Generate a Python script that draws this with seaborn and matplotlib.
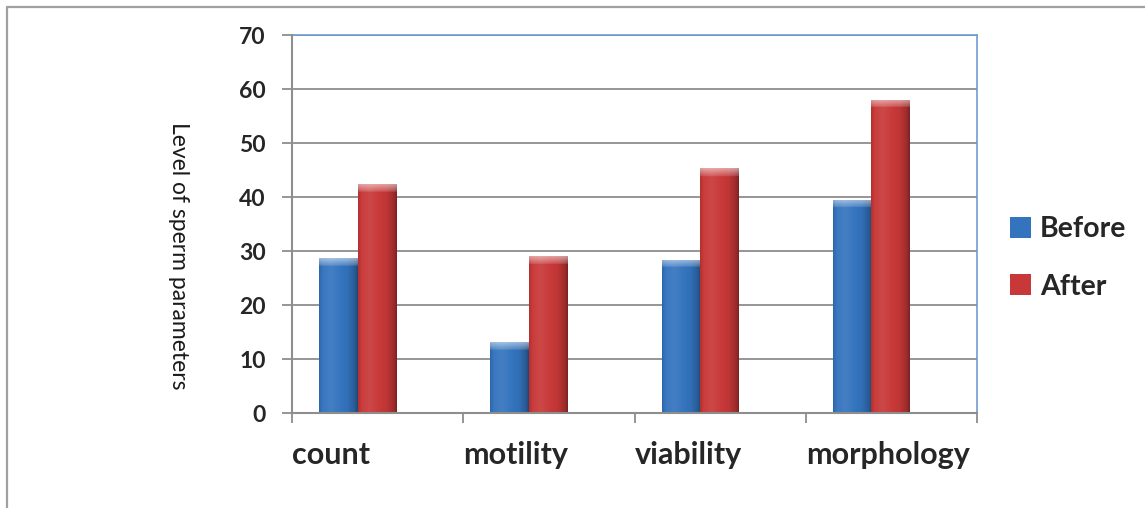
import numpy as np
import pandas as pd
import matplotlib
matplotlib.use("Agg")
import matplotlib.pyplot as plt
import seaborn as sns
from matplotlib.lines import Line2D
from matplotlib.colors import to_rgb

# Data
categories = ["count", "motility", "viability", "morphology"]
before_values = [28.7, 13.1, 28.4, 39.5]
after_values = [42.4, 29.0, 45.3, 58.0]
groups = ["Before", "After"]
y_ticks = [0, 10, 20, 30, 40, 50, 60, 70]

df = pd.DataFrame({
    "category": categories * 2,
    "group": [groups[0]] * len(categories) + [groups[1]] * len(categories),
    "value": before_values + after_values,
})

BLUE = "#3474BE"
RED = "#C83838"
GRID = "#8E8E8E"
FRAME_BLUE = "#6F9BD3"

sns.set_theme(style="white")
plt.rcParams["font.family"] = ["Lato", "DejaVu Sans"]

W, H = 1145, 508
fig = plt.figure(figsize=(W / 100, H / 100), dpi=100)
ax = fig.add_axes([292 / W, 1 - 413 / H, 685 / W, 378 / H])

sns.barplot(data=df, x="category", y="value", hue="group", hue_order=groups,
            palette=[BLUE, RED], width=0.448, saturation=1, ax=ax,
            linewidth=0, legend=True)

x0 = -0.383
ax.set_xlim(x0, x0 + 4)
ax.set_ylim(0, 70)


def shade(rgb, amt):
    rgb = np.asarray(rgb)
    if amt >= 0:
        return rgb + (1 - rgb) * amt
    return rgb * (1 + amt)


# Bevelled shading on each bar
for cont, base in zip(ax.containers, [BLUE, RED]):
    c = to_rgb(base)
    for bar in cont:
        x, y = bar.get_x(), bar.get_y()
        w, h = bar.get_width(), bar.get_height()
        nx, ny = 60, 240
        u = np.linspace(0, 1, nx)
        prof = np.interp(u, [0, 0.08, 0.3, 0.75, 0.93, 1.0],
                         [-0.12, 0.02, 0.08, -0.05, -0.22, -0.38])
        img = np.zeros((ny, nx, 3))
        yy = np.linspace(y + h, y, ny)  # top row first
        bevel = 1.4
        for j in range(nx):
            img[:, j, :] = shade(c, prof[j])
        for i, yv in enumerate(yy):
            d = (y + h) - yv
            if d < bevel:
                t = 1 - d / bevel
                img[i, :, :] = img[i, :, :] + (1 - img[i, :, :]) * (0.4 * t + 0.12)
        im = ax.imshow(img, extent=(x, x + w, y, y + h), aspect="auto",
                       origin="upper", zorder=bar.get_zorder() + 0.1,
                       interpolation="bilinear")
        im.set_clip_path(bar)

ax.set_xlim(x0, x0 + 4)
ax.set_ylim(0, 70)

# Axes styling
ax.set_yticks(y_ticks)
ax.set_yticklabels([str(v) for v in y_ticks], fontsize=16.5, fontweight="bold")
boundaries = [x0 + k for k in range(5)]
ax.set_xticks(boundaries)
ax.set_xticklabels(categories + [""], fontsize=22, fontweight="bold", ha="left")
ax.set_xlabel("")
ax.set_ylabel("")
ax.grid(axis="y", color=GRID, linewidth=1.3)
ax.set_axisbelow(True)
ax.tick_params(axis="y", length=7, width=1.3, color=GRID, pad=12, direction="out", left=True)
ax.tick_params(axis="x", length=7, width=1.3, color=GRID, pad=13, direction="out", bottom=True)
for side in ["left", "bottom"]:
    ax.spines[side].set_color(GRID)
    ax.spines[side].set_linewidth(1.5)
    ax.spines[side].set_zorder(5)
for side in ["top", "right"]:
    ax.spines[side].set_color(FRAME_BLUE)
    ax.spines[side].set_linewidth(1.2)

# Legend
handles, labels = ax.get_legend_handles_labels()
ax.legend(handles, labels, loc="center left",
          bbox_to_anchor=(1010 / W, 1 - 258 / H), bbox_transform=fig.transFigure,
          frameon=False, prop={"weight": "bold", "size": 20.5},
          handlelength=0.75, handleheight=0.75, handletextpad=0.3,
          labelspacing=1.1, borderaxespad=0, borderpad=0)

# Y-axis title
fig.text(178 / W, 1 - 256 / H, "Level of sperm parameters", rotation=-90,
         ha="center", va="center", fontsize=16.5, color="#1a1a1a")

# Chart-area frame
fig.add_artist(Line2D([7 / W, 1], [1 - 7 / H] * 2, transform=fig.transFigure,
                      color="#A0A0A0", linewidth=1.6))
fig.add_artist(Line2D([7 / W] * 2, [0, 1 - 7 / H], transform=fig.transFigure,
                      color="#A0A0A0", linewidth=1.6))

fig.savefig("out.png", dpi=100, facecolor="white")
